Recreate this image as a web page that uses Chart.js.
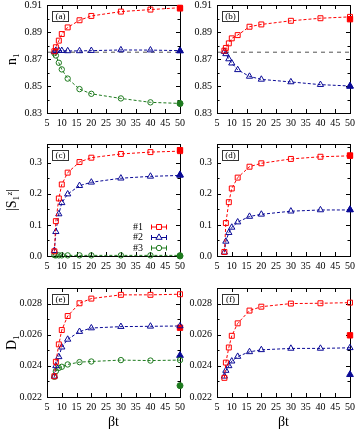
<!DOCTYPE html>
<html>
<head>
<meta charset="utf-8">
<script src="https://cdn.jsdelivr.net/npm/chart.js@4.4.1/dist/chart.umd.min.js"></script>
<style>
  html, body { margin: 0; padding: 0; background: #fff; }
  #wrap { position: relative; width: 357px; height: 431px; overflow: hidden; background: #fff; }
  #wrap canvas { position: absolute; }
</style>
</head>
<body>
<div id="wrap"></div>
<script>
// beta*t values (x axis)
const betaT = [7.5, 8, 9, 10, 12, 16, 20, 30, 40, 50];
const xTicks = [5, 10, 15, 20, 25, 30, 35, 40, 45, 50];

// (a) n_1, three sites
const nA1 = [0.8757, 0.8787, 0.8836, 0.8885, 0.8934, 0.8987, 0.9019, 0.9051, 0.9066, 0.9080];
const nA2 = [0.8755, 0.8762, 0.8763, 0.8762, 0.8760, 0.8760, 0.8762, 0.8767, 0.8766, 0.8762];
const nA3 = [0.8743, 0.8726, 0.8672, 0.8623, 0.8555, 0.8477, 0.8442, 0.8408, 0.8379, 0.8371];
const nAEnd = [0.9075, 0.8760, 0.8370];
// (b) n_1
const nB1 = [0.8762, 0.8782, 0.8816, 0.8853, 0.8877, 0.8939, 0.8956, 0.8983, 0.9002, 0.9012];
const nB2 = [0.8755, 0.8738, 0.8700, 0.8669, 0.8620, 0.8571, 0.8549, 0.8530, 0.8510, 0.8500];
const nBEnd = [0.8995, 0.8498];
const nRef = 0.875;
const nTicks = [0.83, 0.85, 0.87, 0.89, 0.91];

// (c) |S_1^z|
const sC1 = [0.015, 0.112, 0.185, 0.230, 0.268, 0.302, 0.316, 0.328, 0.334, 0.337];
const sC2 = [0.017, 0.078, 0.135, 0.171, 0.199, 0.226, 0.237, 0.250, 0.256, 0.259];
const sC3 = [0.003, 0.002, 0.002, 0.002, 0.002, 0.002, 0.002, 0.002, 0.002, 0.002];
const sCEnd = [0.340, 0.261, 0.000];
// (d) |S_1^z|
const sD1 = [0.013, 0.106, 0.173, 0.217, 0.252, 0.287, 0.298, 0.312, 0.319, 0.322];
const sD2 = [0.012, 0.047, 0.075, 0.092, 0.109, 0.127, 0.134, 0.144, 0.148, 0.148];
const sDEnd = [0.323, 0.149];
const sTicks = [0.0, 0.1, 0.2, 0.3];

// (e) D_1
const dE1 = [0.02333, 0.02426, 0.02538, 0.02630, 0.02720, 0.02802, 0.02832, 0.02856, 0.02856, 0.02860];
const dE2 = [0.02333, 0.02400, 0.02458, 0.02520, 0.02570, 0.02620, 0.02643, 0.02652, 0.02654, 0.02656];
const dE3 = [0.02330, 0.02366, 0.02387, 0.02394, 0.02409, 0.02424, 0.02428, 0.02437, 0.02434, 0.02437];
const dEEnd = [0.02645, 0.02467, 0.02273];
// (f) D_1
const dF1 = [0.02323, 0.02421, 0.02518, 0.02593, 0.02673, 0.02755, 0.02780, 0.02800, 0.02802, 0.02806];
const dF2 = [0.02333, 0.02370, 0.02400, 0.02430, 0.02460, 0.02490, 0.02503, 0.02512, 0.02512, 0.02516];
const dFEnd = [0.02596, 0.02344];
const dTicks = [0.022, 0.024, 0.026, 0.028];

const seriesNames = ['#1', '#2', '#3'];

const FONT = "'Liberation Serif', 'DejaVu Serif', serif";
const RED = '#ff0000', BLUE = '#0a0a96', GREEN = '#1e7a1e';
const COLORS = [RED, BLUE, GREEN];
const SHAPES = ['rect', 'triangle', 'circle'];
const RADII = [3.5, 3.6, 2.7];

const panels = [
  { label: '(a)', frame: [47, 4, 180, 113], yMin: 0.83, yMax: 0.91, ticks: nTicks, minor: 0.01, dec: 2,
    title: 'n₁', series: [nA1, nA2, nA3], ends: nAEnd, ref: nRef },
  { label: '(b)', frame: [217, 4, 350, 113], yMin: 0.83, yMax: 0.91, ticks: nTicks, minor: 0.01, dec: 2,
    title: '', series: [nB1, nB2], ends: nBEnd, ref: nRef },
  { label: '(c)', frame: [47, 144, 180, 256], yMin: 0, yMax: 0.36, ticks: sTicks, minor: 0.05, dec: 1,
    title: '|S₁ᶻ|', series: [sC1, sC2, sC3], ends: sCEnd, legend: true },
  { label: '(d)', frame: [217, 144, 350, 256], yMin: 0, yMax: 0.36, ticks: sTicks, minor: 0.05, dec: 1,
    title: '', series: [sD1, sD2], ends: sDEnd },
  { label: '(e)', frame: [47, 288, 180, 397], yMin: 0.022, yMax: 0.029, ticks: dTicks, minor: 0.001, dec: 3,
    title: 'D₁', series: [dE1, dE2, dE3], ends: dEEnd, xTitle: 'βt' },
  { label: '(f)', frame: [217, 288, 350, 397], yMin: 0.022, yMax: 0.029, ticks: dTicks, minor: 0.001, dec: 3,
    title: '', series: [dF1, dF2], ends: dFEnd, xTitle: 'βt' }
];

// frame, inward ticks, reference line, panel label and legend
const framePlugin = {
  id: 'frame',
  beforeDatasetsDraw(chart) {
    const p = chart.options.plugins.frame;
    const { ctx, chartArea: a, scales } = chart;
    ctx.save();
    if (p.ref !== undefined) {
      const y = scales.y.getPixelForValue(p.ref);
      ctx.strokeStyle = '#7a7a7a';
      ctx.lineWidth = 1.3;
      ctx.setLineDash([4, 4]);
      ctx.beginPath();
      ctx.moveTo(a.left, y);
      ctx.lineTo(a.right, y);
      ctx.stroke();
      ctx.setLineDash([]);
    }
    ctx.strokeStyle = '#000';
    ctx.lineWidth = 1;
    ctx.beginPath();
    scales.x.ticks.forEach(t => {
      const x = Math.round(scales.x.getPixelForValue(t.value)) + 0.5;
      ctx.moveTo(x, a.bottom); ctx.lineTo(x, a.bottom - 4);
      ctx.moveTo(x, a.top); ctx.lineTo(x, a.top + 4);
    });
    const ys = scales.y;
    const n = Math.round((ys.max - ys.min) / p.minor);
    for (let i = 0; i <= n; i++) {
      const v = ys.min + i * p.minor;
      const major = ys.ticks.some(t => Math.abs(t.value - v) < p.minor / 10);
      const len = major ? 4 : 2.5;
      const y = Math.round(ys.getPixelForValue(v)) + 0.5;
      ctx.moveTo(a.left, y); ctx.lineTo(a.left + len, y);
      ctx.moveTo(a.right, y); ctx.lineTo(a.right - len, y);
    }
    ctx.stroke();
    ctx.strokeRect(Math.round(a.left) + 0.5, Math.round(a.top) + 0.5,
      Math.round(a.right - a.left), Math.round(a.bottom - a.top));
    ctx.restore();
  },
  afterDraw(chart) {
    const p = chart.options.plugins.frame;
    const { ctx, chartArea: a } = chart;
    ctx.save();
    // panel label box
    ctx.strokeStyle = '#333';
    ctx.lineWidth = 1;
    ctx.strokeRect(Math.round(a.left) + 5.5, Math.round(a.top) + 6.5, 16, 10);
    ctx.fillStyle = '#000';
    ctx.font = '9px ' + FONT;
    ctx.textAlign = 'center';
    ctx.textBaseline = 'middle';
    ctx.fillText(p.label, a.left + 13.5, a.top + 12);
    if (p.legend) {
      const rows = [83, 93.5, 104];
      chart.data.datasets.slice(0, 3).forEach((ds, i) => {
        const y = a.top + rows[i];
        ctx.fillStyle = '#000';
        ctx.textAlign = 'right';
        ctx.font = '10px ' + FONT;
        ctx.fillText(seriesNames[i], a.left + 96, y);
        ctx.strokeStyle = ds.borderColor;
        ctx.lineWidth = 1;
        ctx.beginPath();
        ctx.moveTo(a.left + 104, y); ctx.lineTo(a.left + 120, y);
        ctx.moveTo(a.left + 104.5, y - 2.5); ctx.lineTo(a.left + 104.5, y + 2.5);
        ctx.moveTo(a.left + 119.5, y - 2.5); ctx.lineTo(a.left + 119.5, y + 2.5);
        ctx.stroke();
        ctx.fillStyle = '#fff';
        Chart.helpers.drawPoint(ctx, {
          pointStyle: ds.pointStyle, radius: ds.pointRadius, borderWidth: 1
        }, a.left + 112, y);
      });
    }
    ctx.restore();
  }
};

const wrap = document.getElementById('wrap');

panels.forEach(p => {
  const [L, T, R, B] = p.frame;
  const padTop = Math.min(6, T);
  const xH = p.xTitle ? 34 : 16;
  const yW = 47;
  const cvs = document.createElement('canvas');
  const w = yW + (R - L) + 7;
  const h = padTop + (B - T) + xH;
  cvs.width = w; cvs.height = h;
  cvs.style.left = (L - yW) + 'px';
  cvs.style.top = (T - padTop) + 'px';
  cvs.style.width = w + 'px';
  cvs.style.height = h + 'px';
  wrap.appendChild(cvs);

  const datasets = [];
  p.series.forEach((vals, i) => {
    datasets.push({
      data: betaT.map((x, k) => ({ x: x, y: vals[k] })),
      showLine: true,
      borderColor: COLORS[i],
      borderWidth: 1,
      borderDash: [3, 2],
      pointStyle: SHAPES[i],
      pointRadius: RADII[i],
      pointBorderColor: COLORS[i],
      pointBackgroundColor: 'rgba(255,255,255,0)',
      pointBorderWidth: 1,
      clip: false
    });
  });
  p.ends.forEach((v, i) => {
    datasets.push({
      data: [{ x: 50, y: v }],
      showLine: false,
      pointStyle: SHAPES[i],
      pointRadius: RADII[i] + 0.3,
      pointBorderColor: COLORS[i],
      pointBackgroundColor: COLORS[i],
      pointBorderWidth: 1,
      clip: false
    });
  });

  new Chart(cvs.getContext('2d'), {
    type: 'scatter',
    data: { datasets: datasets },
    options: {
      responsive: false,
      animation: false,
      devicePixelRatio: 1,
      layout: { padding: { top: padTop, right: 7, left: 0, bottom: 0 } },
      plugins: {
        legend: { display: false },
        tooltip: { enabled: false },
        frame: { label: p.label, ref: p.ref, minor: p.minor, legend: p.legend }
      },
      scales: {
        x: {
          type: 'linear', min: 5, max: 50,
          afterBuildTicks: s => { s.ticks = xTicks.map(v => ({ value: v })); },
          afterFit: s => { s.height = xH; s.paddingLeft = 0; s.paddingRight = 0; },
          grid: { display: false, drawTicks: false },
          border: { display: false },
          ticks: { color: '#000', font: { family: FONT, size: 10 }, padding: 4,
                   maxRotation: 0, autoSkip: false, callback: v => String(v) },
          title: { display: !!p.xTitle, text: p.xTitle || '', color: '#000',
                   font: { family: FONT, size: 14 }, padding: { top: 0, bottom: 0 } }
        },
        y: {
          type: 'linear', min: p.yMin, max: p.yMax,
          afterBuildTicks: s => { s.ticks = p.ticks.map(v => ({ value: v })); },
          afterFit: s => { s.width = yW; s.paddingTop = 0; s.paddingBottom = 0; },
          grid: { display: false, drawTicks: false },
          border: { display: false },
          ticks: { color: '#000', font: { family: FONT, size: 10 }, padding: 5,
                   callback: v => Number(v).toFixed(p.dec) },
          title: { display: !!p.title, text: p.title, color: '#000',
                   font: { family: FONT, size: 14 }, padding: { top: 4, bottom: 0 } }
        }
      }
    },
    plugins: [framePlugin]
  });
});
</script>
</body>
</html>
